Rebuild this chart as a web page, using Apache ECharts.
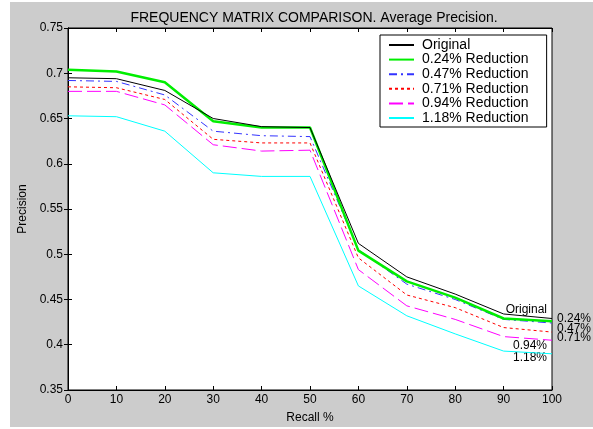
<!DOCTYPE html>
<html>
<head>
<meta charset="utf-8">
<script src="https://cdn.jsdelivr.net/npm/echarts@6/dist/echarts.min.js"></script>
<style>
html, body { margin: 0; padding: 0; background: #ffffff; }
#bg { position: absolute; left: 10px; top: 2px; width: 583px; height: 425px; background: #cccccc; }
#chart { position: absolute; left: 0; top: 0; width: 593px; height: 429px; }
</style>
</head>
<body>
<div id="bg"></div>
<div id="chart"></div>
<script>
/* recall levels */
var recall = [0, 10, 20, 30, 40, 50, 60, 70, 80, 90, 100];
/* average precision per run */
var original = [0.695, 0.694, 0.681, 0.650, 0.641, 0.640, 0.512, 0.475, 0.456, 0.434, 0.429];
var red024 = [0.704, 0.702, 0.690, 0.647, 0.640, 0.640, 0.504, 0.470, 0.452, 0.429, 0.426];
var red047 = [0.692, 0.691, 0.676, 0.636, 0.631, 0.630, 0.505, 0.467, 0.450, 0.428, 0.424];
var red071 = [0.685, 0.684, 0.671, 0.627, 0.623, 0.623, 0.496, 0.455, 0.441, 0.419, 0.414];
var red094 = [0.680, 0.680, 0.665, 0.621, 0.614, 0.615, 0.483, 0.443, 0.428, 0.409, 0.405];
var red118 = [0.653, 0.652, 0.636, 0.590, 0.586, 0.586, 0.465, 0.432, 0.412, 0.393, 0.390];
var names = ['Original', '0.24% Reduction', '0.47% Reduction', '0.71% Reduction', '0.94% Reduction', '1.18% Reduction'];
var endTags = ['Original', '0.24%', '0.47%', '0.71%', '0.94%', '1.18%'];

var font = 'Arial, "Liberation Sans", sans-serif';

function pairs(vals) {
	var out = [];
	for (var i = 0; i < recall.length; i++) out.push([recall[i], vals[i]]);
	return out;
}

// end label: which side of x=100 and vertical shift
function tag(idx, vals, side, dy) {
	return {
		symbol: 'circle',
		symbolSize: 0,
		data: [ {
			coord: [100, vals[vals.length - 1]],
			label: {
				show: true,
				formatter: endTags[idx],
				position: side,
				distance: 5,
				offset: [0, dy],
				color: '#000',
				fontSize: 12,
				fontFamily: font
			}
		} ]
	};
}

function line(idx, vals, color, width, dash, mp) {
	return {
		name: names[idx],
		type: 'line',
		data: pairs(vals),
		symbol: 'none',
		silent: true,
		z: 10 - idx,
		lineStyle: { color: color, width: width, type: dash },
		itemStyle: { color: color },
		markPoint: mp
	};
}

var chart = echarts.init(document.getElementById('chart'));
var option = {
	animation: false,
	backgroundColor: 'transparent',
	title: {
		text: 'FREQUENCY MATRIX COMPARISON. Average Precision.',
		left: 309,
		textAlign: 'center',
		top: 6,
		textStyle: { color: '#000', fontSize: 14, fontWeight: 'normal', fontFamily: font }
	},
	legend: {
		orient: 'vertical',
		left: 380,
		top: 35,
		data: names,
		backgroundColor: '#ffffff',
		borderColor: '#000',
		borderWidth: 1,
		borderRadius: 0,
		padding: [3, 18, 2, 8],
		itemWidth: 25,
		itemHeight: 14,
		itemGap: 0.6,
		itemStyle: { opacity: 0 },
		textStyle: { color: '#000', fontSize: 14, fontFamily: font, padding: [0, 0, 0, 3] }
	},
	grid: { left: 68, top: 28, right: 41, bottom: 38, show: true, backgroundColor: '#ffffff', borderColor: '#000', borderWidth: 1 },
	xAxis: [ {
		type: 'value',
		min: 0, max: 100, interval: 10,
		name: 'Recall %',
		nameLocation: 'middle',
		nameGap: 22,
		nameTextStyle: { color: '#000', fontSize: 12, fontFamily: font },
		axisLine: { lineStyle: { color: '#000' } },
		axisTick: { inside: true, length: 4, lineStyle: { color: '#000' } },
		axisLabel: { color: '#000', fontSize: 12, fontFamily: font, margin: 4 },
		splitLine: { show: false }
	}, {
		type: 'value', position: 'top',
		min: 0, max: 100, interval: 10,
		axisLine: { lineStyle: { color: '#000' } },
		axisTick: { inside: true, length: 4, lineStyle: { color: '#000' } },
		axisLabel: { show: false },
		splitLine: { show: false }
	} ],
	yAxis: [ {
		type: 'value',
		min: 0.35, max: 0.75, interval: 0.05,
		name: 'Precision',
		nameLocation: 'middle',
		nameGap: 39,
		nameTextStyle: { color: '#000', fontSize: 12, fontFamily: font },
		axisLine: { show: true, lineStyle: { color: '#000' } },
		axisTick: { show: true, inside: true, length: 4, lineStyle: { color: '#000' } },
		axisLabel: { color: '#000', fontSize: 12, fontFamily: font, margin: 5 },
		splitLine: { show: false }
	}, {
		type: 'value', position: 'right',
		min: 0.35, max: 0.75, interval: 0.05,
		axisLine: { show: true, lineStyle: { color: '#000' } },
		axisTick: { show: true, inside: true, length: 4, lineStyle: { color: '#000' } },
		axisLabel: { show: false },
		splitLine: { show: false }
	} ],
	series: [
		line(0, original, '#000000', 1, 'solid', tag(0, original, 'left', -9)),
		line(1, red024, '#00ee00', 2.5, 'solid', tag(1, red024, 'right', -3)),
		line(2, red047, '#3333ff', 1, [8, 4, 2, 4], tag(2, red047, 'right', 6)),
		line(3, red071, '#ff0000', 1, [3, 3], tag(3, red071, 'right', 6)),
		line(4, red094, '#ff00ff', 1, [14, 5], tag(4, red094, 'left', 5)),
		line(5, red118, '#00ffff', 1, 'solid', tag(5, red118, 'left', 4))
	]
};
chart.setOption(option);
</script>
</body>
</html>
